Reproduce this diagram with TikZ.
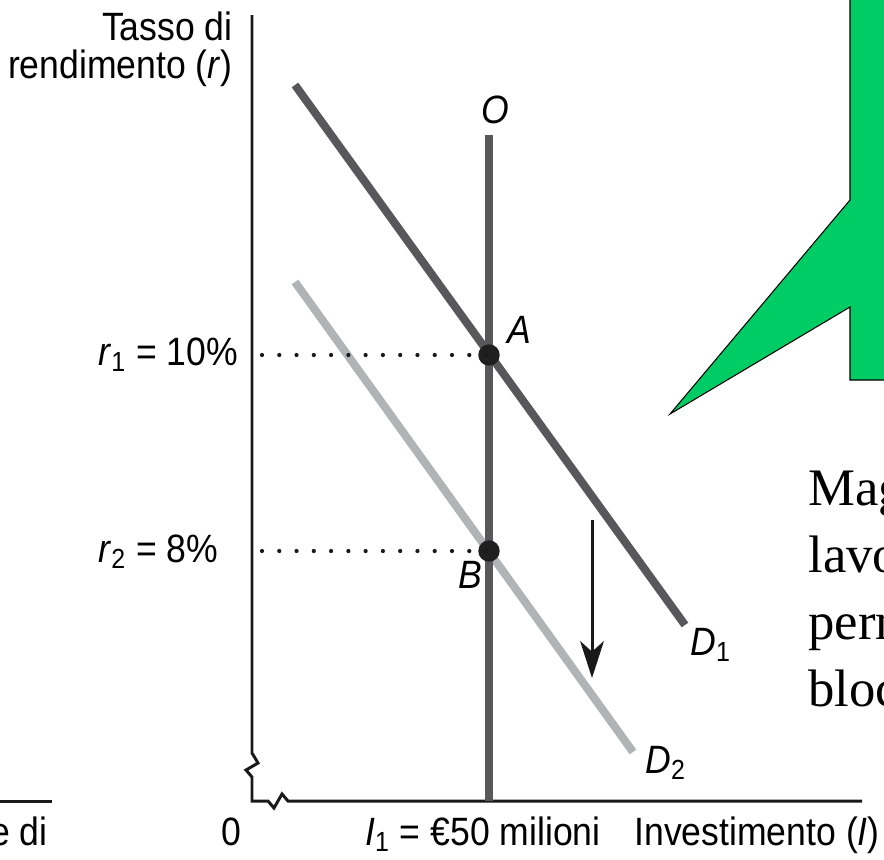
\documentclass[tikz,border=0pt]{standalone}
\usepackage{fontspec}
\setmainfont{Liberation Sans}[FakeStretch=0.9]
\newfontfamily\slidefont{Liberation Serif}
\usetikzlibrary{arrows.meta}
\definecolor{darkline}{HTML}{58585A}
\definecolor{lightline}{HTML}{B1B3B5}
\definecolor{callout}{HTML}{00CC66}
\tikzset{
  axis/.style={line width=1.7pt,draw=black!90},
  curve/.style={line width=4.6pt,draw=darkline},
  shifted/.style={line width=4.6pt,draw=lightline},
  guide/.style={line width=2.4pt,line cap=round,dash pattern=on 0pt off 9.83pt,draw=black!90},
  point/.style={circle,fill=black!88,minimum size=12.2pt,inner sep=0pt},
  lab/.style={inner sep=0pt,font=\fontsize{22.5}{26}\selectfont},
  note/.style={inner sep=0pt,font=\slidefont\fontsize{30}{36}\selectfont},
  arrow/.style={-{Stealth[length=21pt,width=13.5pt,inset=6pt]},line width=1.7pt,draw=black!90}
}
\begin{document}
\begin{tikzpicture}[x=0.02cm,y=-0.02cm]
  \useasboundingbox (0,0) rectangle (884,859);
  \clip (0,0) rectangle (884,859);
  % callout shape from the slide
  \filldraw[fill=callout,draw=black,line width=0.6pt]
    (850,-5) -- (850,200) -- (670,414) -- (850,307) -- (850,380) -- (890,380) -- (890,-5) -- cycle;
  % axes with breaks
  \draw[axis] (252,15) -- (252,753) -- (258,763) -- (246,770) -- (252,777) -- (252,801)
    -- (268,801) -- (274,808) -- (282,794) -- (288,801) -- (862,801);
  \draw[axis] (0,801) -- (52,801);
  % curves
  \coordinate (otop) at (489,135);
  \coordinate (obot) at (489,801);
  \coordinate (d1start) at (295,85);
  \coordinate (d1end) at (685,625);
  \coordinate (d2start) at (295,282);
  \coordinate (d2end) at (633,752);
  \draw[shifted] (d2start) -- (d2end);
  \draw[curve] (d1start) -- (d1end);
  \draw[curve] (otop) -- (obot);
  \node[point] (A) at (489,355) {};
  \node[point] (B) at (489,551) {};
  \coordinate (r1axis) at (262,355);
  \coordinate (r2axis) at (262,551);
  \draw[guide] (r1axis) -- (A.center);
  \draw[guide] (r2axis) -- (B.center);
  \coordinate (shifttop) at (592,520);
  \coordinate (shiftbot) at (592,678);
  \draw[arrow] (shifttop) -- (shiftbot);
  % labels
  \node[lab,anchor=base east] (ylab1) at (233,40) {Tasso di};
  \node[lab,anchor=base east] (ylab2) at (233,78) {rendimento (\textit{r})};
  \node[lab,anchor=base west] (r1lab) at (98,365) {\textit{r}\textsubscript{1} = 10\%};
  \node[lab,anchor=base west] (r2lab) at (98,562) {\textit{r}\textsubscript{2} = 8\%};
  \node[lab,anchor=base] (zero) at (231,845) {0};
  \node[lab,anchor=base east] (edi) at (48,845) {e di};
  \node[lab,anchor=base west] (ilab) at (365,845) {\textit{I}\textsubscript{1} = €50 milioni};
  \node[lab,anchor=base east] (xlab) at (880,845) {Investimento (\textit{I})};
  \node[lab,anchor=base] (olab) at (495,123) {\textit{O}};
  \node[lab,anchor=base west] (alab) at (507,343) {\textit{A}};
  \node[lab,anchor=base west] (blab) at (458,588) {\textit{B}};
  \node[lab,anchor=base west] (d1lab) at (690,655) {\textit{D}\textsubscript{1}};
  \node[lab,anchor=base west] (d2lab) at (645,773) {\textit{D}\textsubscript{2}};
  % slide text, cut at the edge
  \node[note,anchor=base west] (line1) at (808,505) {Mag};
  \node[note,anchor=base west] (line2) at (808,572) {lavo};
  \node[note,anchor=base west] (line3) at (808,639) {perm};
  \node[note,anchor=base west] (line4) at (808,706) {bloc};
\end{tikzpicture}
\end{document}
